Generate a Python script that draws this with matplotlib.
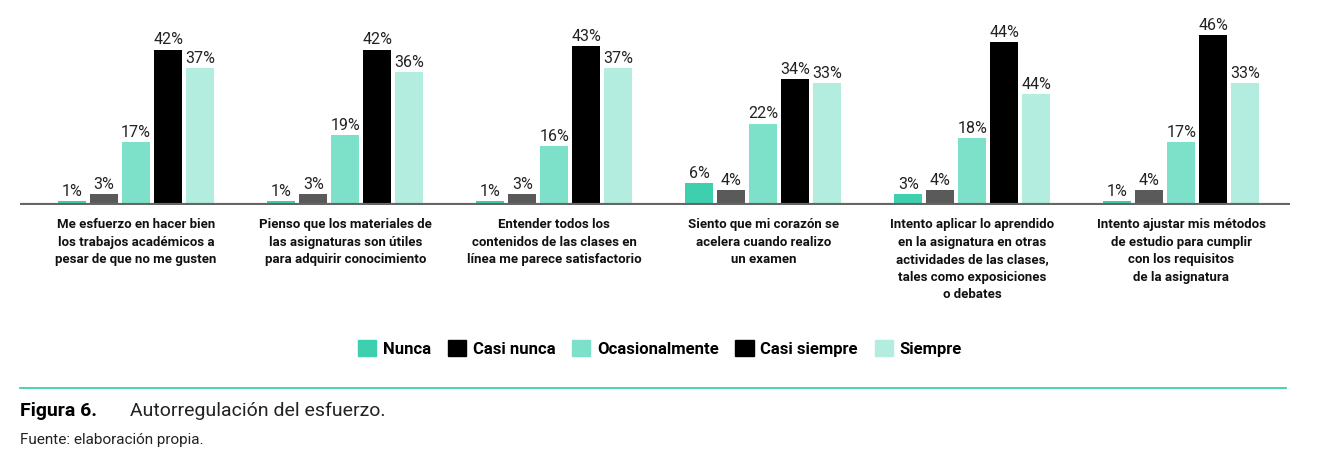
import numpy as np
import matplotlib.pyplot as plt
from matplotlib.patches import Patch

plt.rcParams['font.family'] = ['Roboto', 'DejaVu Sans']

categories = [
    "Me esfuerzo en hacer bien\nlos trabajos académicos a\npesar de que no me gusten",
    "Pienso que los materiales de\nlas asignaturas son útiles\npara adquirir conocimiento",
    "Entender todos los\ncontenidos de las clases en\nlínea me parece satisfactorio",
    "Siento que mi corazón se\nacelera cuando realizo\nun examen",
    "Intento aplicar lo aprendido\nen la asignatura en otras\nactividades de las clases,\ntales como exposiciones\no debates",
    "Intento ajustar mis métodos\nde estudio para cumplir\ncon los requisitos\nde la asignatura",
]
series = ["Nunca", "Casi nunca", "Ocasionalmente", "Casi siempre", "Siempre"]
# printed percentages
labels = [
    [1, 3, 17, 42, 37],
    [1, 3, 19, 42, 36],
    [1, 3, 16, 43, 37],
    [6, 4, 22, 34, 33],
    [3, 4, 18, 44, 44],
    [1, 4, 17, 46, 33],
]
# drawn bar heights (group 5 "Siempre" bar is drawn shorter than its label)
heights = [
    [1, 3, 17, 42, 37],
    [1, 3, 19, 42, 36],
    [1, 3, 16, 43, 37],
    [6, 4, 22, 34, 33],
    [3, 4, 18, 44, 30],
    [1, 4, 17, 46, 33],
]
bar_colors = ["#3dcfae", "#5a5a5a", "#7de0c8", "#000000", "#b3ede0"]
legend_colors = ["#3dcfae", "#000000", "#7de0c8", "#000000", "#b3ede0"]

fig = plt.figure(figsize=(13.44, 4.76), dpi=100)
ax = fig.add_axes([0.015, 0.569, 0.945, 0.41])
gap = 209 / 32.0
w = 28 / 32.0
for g in range(len(categories)):
    c = g * gap
    for s in range(len(series)):
        x = c + (s - 2)
        h = heights[g][s]
        ax.bar(x, h, width=w, color=bar_colors[s])
        ax.text(x, h + 0.6, f"{labels[g][s]}%", ha='center', va='bottom',
                fontsize=11.5, color='#222')
    ax.text(c, -3.5, categories[g], ha='center', va='top', fontsize=9.5,
            fontweight='bold', linespacing=1.45, color='#111')

ax.set_xlim(-3.625, 36.06)
ax.set_ylim(0, 52.7)
ax.axhline(0, color='#666', lw=3)
for sp in ax.spines.values():
    sp.set_visible(False)
ax.set_xticks([])
ax.set_yticks([])

handles = [Patch(color=legend_colors[i], label=series[i]) for i in range(len(series))]
fig.legend(handles=handles, loc='center', bbox_to_anchor=(0.491, 0.268), ncol=5,
           frameon=False, prop={'weight': 'bold', 'size': 12},
           handlelength=1.1, handleheight=1.1, columnspacing=1.0, handletextpad=0.4)

fig.add_artist(plt.Line2D([0.015, 0.957], [0.185, 0.185], color='#3dcfae', lw=1.3))
fig.text(0.015, 0.137, "Figura 6.", fontsize=14, fontweight='bold', va='center')
fig.text(0.097, 0.137, "Autorregulación del esfuerzo.", fontsize=14, va='center', color='#222')
fig.text(0.015, 0.075, "Fuente: elaboración propia.", fontsize=11, va='center', color='#222')

fig.savefig("out.png", dpi=100)
